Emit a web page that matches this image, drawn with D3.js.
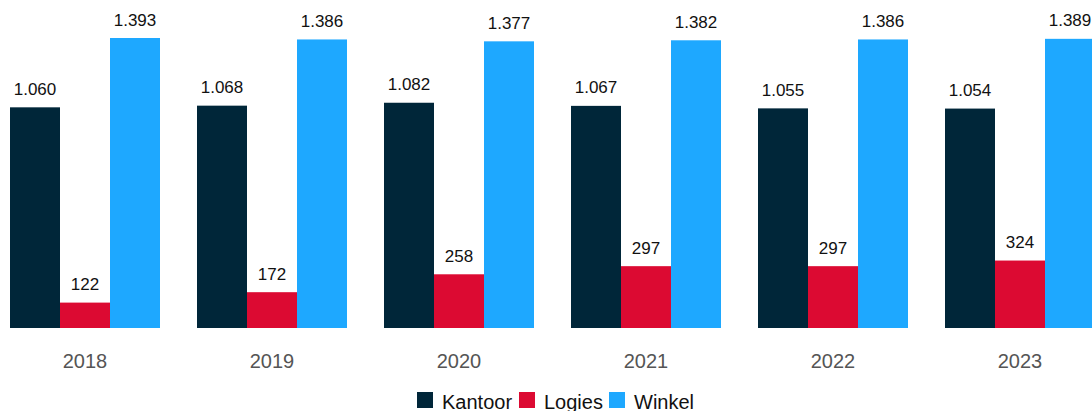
<!DOCTYPE html>
<html>
<head>
<meta charset="utf-8">
<script src="https://cdn.jsdelivr.net/npm/d3@7"></script>
<style>
  body { margin: 0; background: #fff; }
  svg { display: block; font-family: "Liberation Sans", Arial, sans-serif; }
</style>
</head>
<body>
<svg id="chart"></svg>
<script>
const years = ["2018", "2019", "2020", "2021", "2022", "2023"];
const series = ["Kantoor", "Logies", "Winkel"];
const kantoor = [1060, 1068, 1082, 1067, 1055, 1054];
const logies = [122, 172, 258, 297, 297, 324];
const winkel = [1393, 1386, 1377, 1382, 1386, 1389];
const colors = ["#002639", "#dc0a32", "#1ea8ff"];

const width = 1092, height = 411;
const baseline = 328, plotTop = 38;
const svg = d3.select("#chart").attr("width", width).attr("height", height);

const rows = years.map((y, i) => ({ year: y, values: [kantoor[i], logies[i], winkel[i]] }));

const x0 = d3.scaleBand().domain(years).range([10, 1095]).paddingInner(37 / 187).paddingOuter(0);
const x1 = d3.scaleBand().domain(series).range([0, x0.bandwidth()]);
const y = d3.scaleLinear().domain([0, 1393]).range([baseline, plotTop]);
const color = d3.scaleOrdinal().domain(series).range(colors);
const fmt = d3.formatLocale({ decimal: ",", thousands: ".", grouping: [3], currency: ["", ""] }).format(",d");

const groups = svg.append("g").selectAll("g").data(rows).enter().append("g")
  .attr("transform", d => `translate(${x0(d.year)},0)`);

groups.selectAll("rect").data(d => d.values.map((v, i) => ({ key: series[i], v })))
  .enter().append("rect")
  .attr("x", d => x1(d.key)).attr("width", x1.bandwidth())
  .attr("y", d => y(d.v)).attr("height", d => baseline - y(d.v))
  .attr("fill", d => color(d.key));

groups.selectAll("text.val").data(d => d.values.map((v, i) => ({ key: series[i], v })))
  .enter().append("text").attr("class", "val")
  .attr("x", d => x1(d.key) + x1.bandwidth() / 2)
  .attr("y", d => y(d.v) - 12.5)
  .attr("text-anchor", "middle").style("font-size", "17px").attr("fill", "#111")
  .text(d => fmt(d.v));

// x axis (no visible domain line)
const xAxis = svg.append("g").attr("transform", `translate(0,${baseline})`)
  .call(d3.axisBottom(x0).tickSize(0).tickPadding(26));
xAxis.select(".domain").remove();
xAxis.selectAll("text").style("font-size", "20px").attr("fill", "#555")
  .style("font-family", "'Liberation Sans', Arial, sans-serif");

// legend
const legendX = [417, 519, 609];
const legend = svg.append("g").selectAll("g").data(series).enter().append("g")
  .attr("transform", (d, i) => `translate(${legendX[i]},392)`);
legend.append("rect").attr("width", 16).attr("height", 16).attr("fill", d => color(d));
legend.append("text").attr("x", 25).attr("y", 16.5).style("font-size", "20px").attr("fill", "#111")
  .text(d => d);
</script>
</body>
</html>
